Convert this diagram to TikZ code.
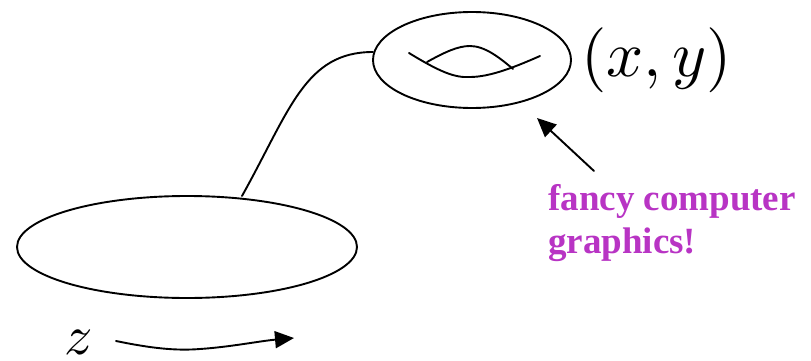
\documentclass[tikz,border=0pt]{standalone}
\usepackage{fontspec}
\newfontfamily\timesfont{Liberation Serif}
\usetikzlibrary{arrows.meta,shapes.geometric}
\definecolor{fancypurple}{RGB}{184,52,196}
\begin{document}
\begin{tikzpicture}[x=1pt,y=-1pt,
  curve/.style={line width=1.9pt, line cap=round},
  oval/.style={draw, ellipse, line width=1.9pt, inner sep=0pt, outer sep=0pt},
  bigtip/.style={-{Triangle[length=19pt,width=17pt]}}]
\useasboundingbox (0,0) rectangle (811,361);
% ellipses
\node[oval, minimum width=340pt, minimum height=102pt] (big) at (187,247) {};
\node[oval, minimum width=198pt, minimum height=96pt] (small) at (472,60) {};
\coordinate (bigtop) at (242,196);
\coordinate (smallleft) at (373,52);
\draw[curve] (bigtop) .. controls (290,110) and (305,52) .. (smallleft);
% torus hole
\draw[curve] (409,53) .. controls (440,72) and (455,78) .. (470,77) .. controls (490,77) and (515,67) .. (540,56);
\draw[curve] (427,62) .. controls (445,52) and (458,46) .. (470,46) .. controls (485,46) and (500,58) .. (513,69);
% labels
\node[anchor=west, inner sep=0pt, scale=6.5] (xy) at (580,60) {$(x,y)$};
\node[anchor=base west, inner sep=0pt, scale=5.6] (z) at (63,354) {$z$};
\node[anchor=base west, inner sep=0pt, align=left, text=fancypurple,
  font=\timesfont\bfseries\fontsize{37}{43}\selectfont] (fancy) at (548,253) {fancy computer\\graphics!};
% arrows
\coordinate (zs) at (116,341);
\coordinate (zt) at (294,338);
\draw[curve, bigtip] (zs) .. controls (150,348) and (175,351) .. (200,349) .. controls (230,347) and (260,341) .. (zt);
\coordinate (fs) at (594,171);
\coordinate (ft) at (537,118);
\draw[curve, bigtip] (fs) -- (ft);
\end{tikzpicture}
\end{document}
